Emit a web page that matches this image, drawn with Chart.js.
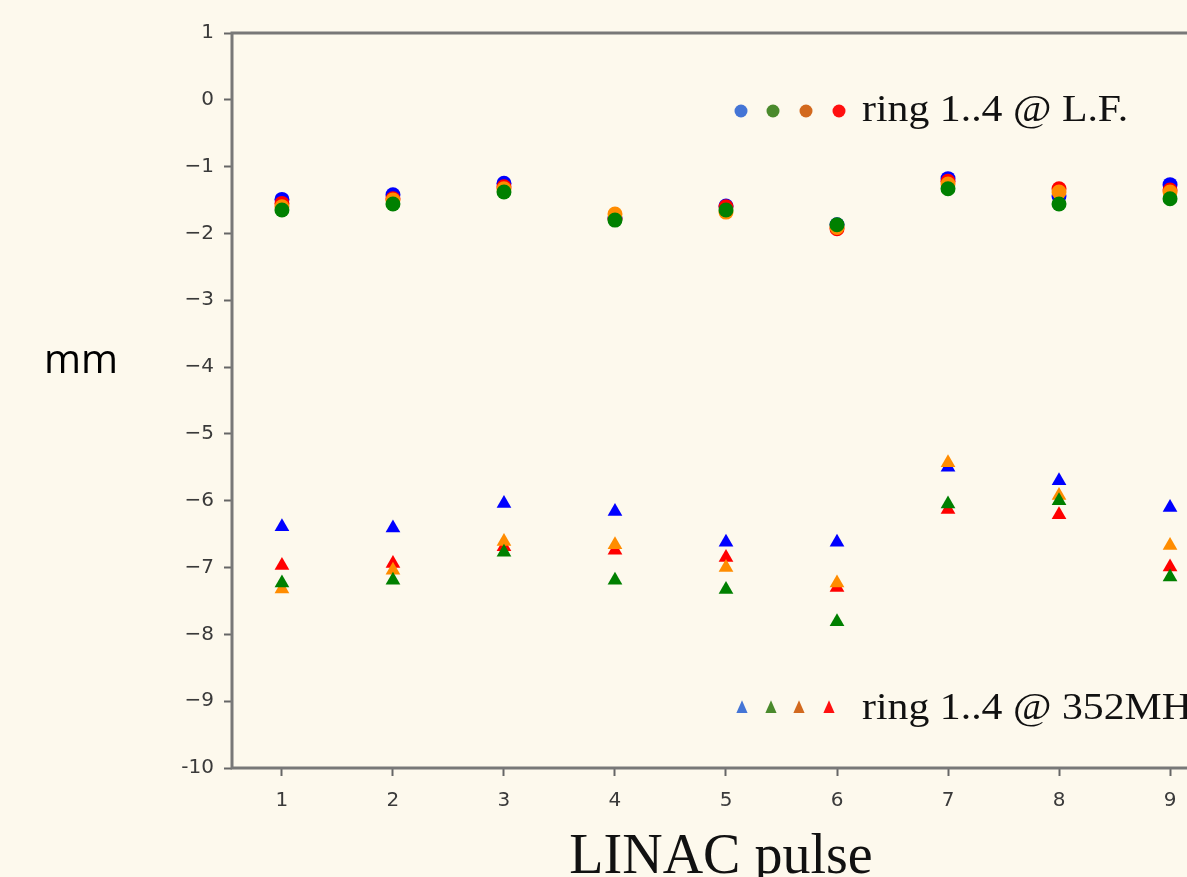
<!DOCTYPE html>
<html>
<head>
<meta charset="utf-8">
<title>LINAC pulse</title>
<script src="https://cdn.jsdelivr.net/npm/chart.js@4.4.1/dist/chart.umd.min.js"></script>
<style>
  html, body { margin: 0; padding: 0; background: #fdf9ed; overflow: hidden; }
  #wrap { position: relative; width: 1187px; height: 877px; overflow: hidden; }
  canvas { display: block; }
</style>
</head>
<body>
<div id="wrap">
  <canvas id="pulsos" width="1400" height="877"></canvas>
</div>
<script>
// pulse number on x, offset in mm on y
var pulsos = [1, 2, 3, 4, 5, 6, 7, 8, 9];

// rings 1..4 at L.F.
var lfAnel1 = [-1.49, -1.42, -1.25, -1.77, -1.59, -1.87, -1.18, -1.44, -1.27];
var lfAnel2 = [-1.65, -1.56, -1.38, -1.80, -1.65, -1.87, -1.33, -1.56, -1.48];
var lfAnel3 = [-1.60, -1.50, -1.33, -1.71, -1.68, -1.91, -1.26, -1.38, -1.38];
var lfAnel4 = [-1.55, -1.48, -1.30, -1.78, -1.60, -1.93, -1.22, -1.33, -1.35];

// rings 1..4 at 352MHz
var rfAnel1 = [-6.39, -6.41, -6.04, -6.16, -6.62, -6.62, -5.50, -5.70, -6.10];
var rfAnel2 = [-7.23, -7.19, -6.77, -7.19, -7.33, -7.81, -6.05, -6.00, -7.14];
var rfAnel3 = [-7.32, -7.04, -6.61, -6.66, -7.00, -7.23, -5.43, -5.92, -6.67];
var rfAnel4 = [-6.97, -6.94, -6.69, -6.74, -6.85, -7.30, -6.13, -6.21, -6.99];

var xTicks = [1, 2, 3, 4, 5, 6, 7, 8, 9, 10];
var yTicks = [1, 0, -1, -2, -3, -4, -5, -6, -7, -8, -9, -10];
var yTickLabels = ['1', '0', '\u22121', '\u22122', '\u22123', '\u22124', '\u22125', '\u22126', '\u22127', '\u22128', '\u22129', '-10'];

var legendaLF = 'ring 1..4 @ L.F.';
var legendaRF = 'ring 1..4 @ 352MHz';
var tituloX = 'LINAC pulse';
var tituloY = 'mm';

var cores = ['#0000ff', '#008000', '#ff8c00', '#ff0000'];
var coresLegenda = ['#4475d6', '#4a8a2c', '#d2691e', '#ff1010'];

function pontos(valores) {
	let p = [];
	for (let i = 0; i < pulsos.length; i++) {
		p.push({ x: pulsos[i], y: valores[i] });
	}
	return p;
}

// green on top, then orange, red, blue underneath
var ordem = [3, 0, 1, 2];

function serie(valores, anel, estilo, raio) {
	return {
		data: pontos(valores),
		pointStyle: estilo,
		pointRadius: raio,
		pointBorderWidth: 0,
		backgroundColor: cores[anel],
		borderColor: cores[anel],
		showLine: false,
		order: ordem[anel]
	};
}

var moldura = {
	id: 'moldura',
	beforeDatasetsDraw(chart) {
		let a = chart.chartArea;
		let ctx = chart.ctx;
		ctx.save();
		ctx.strokeStyle = '#787878';
		ctx.lineWidth = 3;
		ctx.strokeRect(a.left, a.top, a.right - a.left, a.bottom - a.top);
		ctx.restore();
	}
};

function marcador(ctx, estilo, x, y, r, cor) {
	ctx.fillStyle = cor;
	ctx.beginPath();
	if (estilo == 'circle') {
		ctx.arc(x, y, r, 0, Math.PI * 2);
	} else {
		ctx.moveTo(x, y - r * 1.1);
		ctx.lineTo(x + r * 0.8, y + r * 0.7);
		ctx.lineTo(x - r * 0.8, y + r * 0.7);
		ctx.closePath();
	}
	ctx.fill();
}

// serif text a bit wider than its height
function textoLargo(ctx, texto, x, y) {
	ctx.save();
	ctx.translate(x, y);
	ctx.scale(1.1, 1);
	ctx.fillText(texto, 0, 0);
	ctx.restore();
}

var textos = {
	id: 'textos',
	afterDraw(chart) {
		let ctx = chart.ctx;
		ctx.save();

		// legend rows inside the axes
		let xsLF = [741, 773, 806, 839];
		for (let i = 0; i < 4; i++) marcador(ctx, 'circle', xsLF[i], 111, 6.5, coresLegenda[i]);
		let xsRF = [742, 771, 799, 829];
		for (let i = 0; i < 4; i++) marcador(ctx, 'triangle', xsRF[i], 708, 7, coresLegenda[i]);

		ctx.fillStyle = '#111';
		ctx.textAlign = 'left';
		ctx.textBaseline = 'alphabetic';
		ctx.font = '38px "Liberation Serif"';
		textoLargo(ctx, legendaLF, 862, 121);
		textoLargo(ctx, legendaRF, 862, 719);

		// axis titles
		ctx.font = '56px "Liberation Serif"';
		ctx.textAlign = 'center';
		ctx.fillStyle = '#111';
		ctx.fillText(tituloX, 721, 873);

		ctx.font = '40px "Open Sans"';
		ctx.fillStyle = '#000';
		ctx.textBaseline = 'middle';
		ctx.fillText(tituloY, 81, 362);
		ctx.restore();
	}
};

function carregarGrafico() {
	let canvas = document.getElementById('pulsos');

	let grafico = new Chart(canvas, {
		type: 'scatter',
		data: {
			datasets: [
				serie(lfAnel1, 0, 'circle', 7.5),
				serie(lfAnel4, 3, 'circle', 7.5),
				serie(lfAnel3, 2, 'circle', 7.5),
				serie(lfAnel2, 1, 'circle', 7.5),
				serie(rfAnel1, 0, 'triangle', 8.5),
				serie(rfAnel4, 3, 'triangle', 8.5),
				serie(rfAnel3, 2, 'triangle', 8.5),
				serie(rfAnel2, 1, 'triangle', 8.5)
			]
		},
		options: {
			responsive: false,
			animation: false,
			layout: {
				padding: { top: 33, left: 0, right: 69, bottom: 0 }
			},
			plugins: {
				legend: { display: false },
				tooltip: { enabled: false }
			},
			scales: {
				x: {
					type: 'linear',
					min: 0.55,
					max: 10.45,
					afterFit: function (s) { s.height = 109; },
					afterBuildTicks: function (s) { s.ticks = xTicks.map(v => ({ value: v })); },
					border: { display: false },
					grid: {
						drawOnChartArea: false,
						drawTicks: true,
						tickLength: 8,
						tickColor: '#666',
						tickWidth: 2
					},
					ticks: {
						padding: 13,
						color: '#3a3a3a',
						font: { family: 'DejaVu Sans', size: 20 },
						maxRotation: 0
					}
				},
				y: {
					type: 'linear',
					min: -10,
					max: 1,
					afterFit: function (s) { s.width = 232; },
					afterBuildTicks: function (s) { s.ticks = yTicks.map(v => ({ value: v })); },
					border: { display: false },
					grid: {
						drawOnChartArea: false,
						drawTicks: true,
						tickLength: 8,
						tickColor: '#666',
						tickWidth: 2
					},
					ticks: {
						padding: 10,
						color: '#3a3a3a',
						font: { family: 'DejaVu Sans', size: 20 },
						callback: function (v) {
							let i = yTicks.indexOf(v);
							return i >= 0 ? yTickLabels[i] : '';
						}
					}
				}
			}
		},
		plugins: [moldura, textos]
	});
}

carregarGrafico();
</script>
</body>
</html>
